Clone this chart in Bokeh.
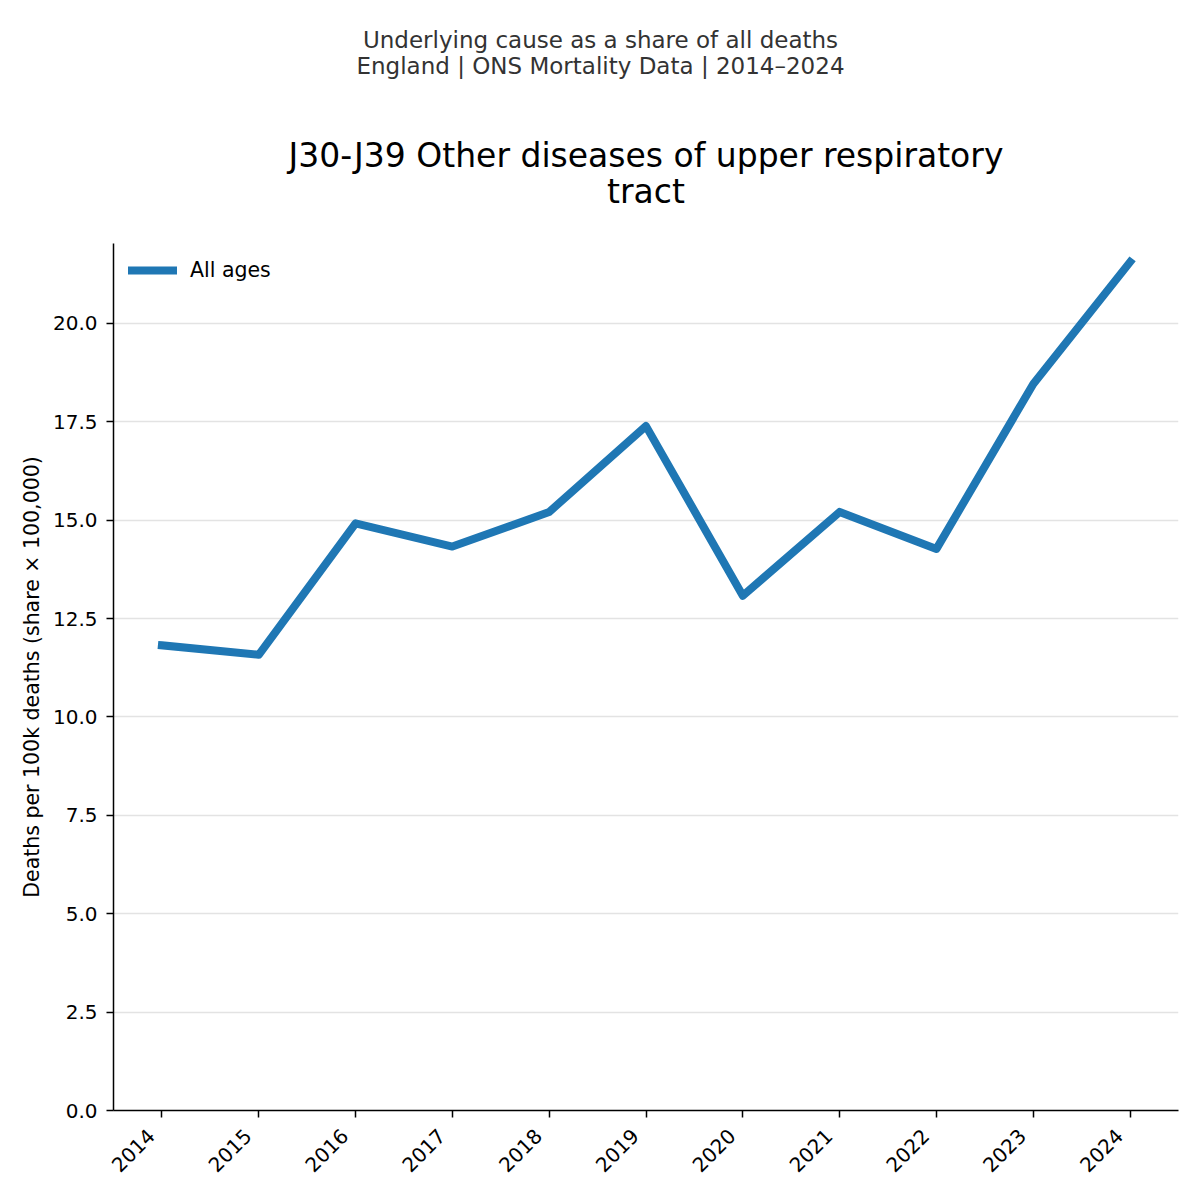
from bokeh.plotting import figure
from bokeh.layouts import column
from bokeh.models import (Range1d, FixedTicker, Legend, LegendItem, PrintfTickFormatter,
                          LinearAxis, CustomJSTickFormatter)
from bokeh.core.properties import value
from bokeh.embed import file_html
from bokeh.resources import INLINE
import math

years = [2014, 2015, 2016, 2017, 2018, 2019, 2020, 2021, 2022, 2023, 2024]
all_ages = [11.82, 11.58, 14.92, 14.33, 15.21, 17.39, 13.08, 15.21, 14.27, 18.46, 21.56]
y_ticks = [0.0, 2.5, 5.0, 7.5, 10.0, 12.5, 15.0, 17.5, 20.0]
suptitle_lines = ["Underlying cause as a share of all deaths",
                  "England | ONS Mortality Data | 2014\u20132024"]
title_lines = ["J30-J39 Other diseases of upper respiratory", "tract"]
y_label = "Deaths per 100k deaths (share \u00d7 100,000)"
series_label = "All ages"

FONT = "DejaVu Sans"
W = 1184
HEAD = 243          # height of the heading strip (titles)
H = 1184 - HEAD     # height of the chart figure
BL, BR, BB = 113, 6, 74
FX0, FX1 = BL, W - BR
LABEL_SHIFT = 0.11  # rotated year labels sit slightly left of their tick (right-aligned box)

# ---- heading strip: ranges mapped to page pixels (y downwards) ----
head = figure(width=W, height=HEAD, output_backend="svg", toolbar_location=None,
              x_range=Range1d(FX0, FX1), y_range=Range1d(HEAD, 0),
              x_axis_type=None, y_axis_type=None,
              min_border_left=BL, min_border_right=BR,
              min_border_top=0, min_border_bottom=0, title=None)
head.outline_line_color = None
head.xgrid.grid_line_color = None
head.ygrid.grid_line_color = None

head.text(x=[600, 600], y=[39, 65], text=suptitle_lines,
          text_font=value(FONT), text_font_size=value("23px"),
          text_color="#333333", text_align="center", text_baseline="alphabetic")
head.text(x=[(FX0 + FX1) / 2] * 2, y=[154.5, 190.5], text=title_lines,
          text_font=value(FONT), text_font_size=value("33px"),
          text_color="black", text_align="center", text_baseline="alphabetic")

# ---- chart ----
p = figure(width=W, height=H, output_backend="svg", toolbar_location=None,
           x_range=Range1d(2013.5, 2024.5), y_range=Range1d(0, 22.03),
           min_border_left=BL, min_border_right=BR, min_border_top=0,
           min_border_bottom=BB, title=None)
p.outline_line_color = None
p.background_fill_color = "white"

r = p.line(years, all_ages, line_width=8, line_color="#1f77b4",
           line_join="round", line_cap="square")

for ax in [p.xaxis[0], p.yaxis[0]]:
    ax.axis_line_color = "black"
    ax.axis_line_width = 1.5
    ax.major_tick_line_color = "black"
    ax.major_tick_line_width = 1.5
    ax.major_tick_out = 7
    ax.major_tick_in = 0
    ax.minor_tick_line_color = None
    ax.major_label_text_font = FONT
    ax.major_label_text_font_size = "20px"
    ax.major_label_text_color = "black"

# x axis: tick marks at the years, no labels
p.xaxis.ticker = FixedTicker(ticks=years)
p.xaxis.formatter = CustomJSTickFormatter(code="return '';")
p.xaxis.major_label_standoff = 0

# second x axis below: the rotated year labels only
label_axis = LinearAxis(ticker=FixedTicker(ticks=[y - LABEL_SHIFT for y in years]),
                        formatter=CustomJSTickFormatter(code="return Math.round(tick).toString();"),
                        axis_line_color=None, major_tick_line_color=None,
                        minor_tick_line_color=None, major_tick_in=0, major_tick_out=0,
                        major_label_orientation=math.pi / 4, major_label_standoff=15,
                        major_label_text_font=FONT, major_label_text_font_size="20px",
                        major_label_text_color="black")
p.add_layout(label_axis, "below")

p.yaxis.ticker = FixedTicker(ticks=y_ticks)
p.yaxis.formatter = PrintfTickFormatter(format="%.1f")
p.yaxis.major_label_standoff = 9
p.yaxis.axis_label = y_label
p.yaxis.axis_label_text_font = FONT
p.yaxis.axis_label_text_font_size = "20.5px"
p.yaxis.axis_label_text_font_style = "normal"
p.yaxis.axis_label_text_color = "black"
p.yaxis.axis_label_standoff = 6

p.xgrid.grid_line_color = None
p.ygrid.grid_line_color = "#e3e3e3"
p.ygrid.grid_line_width = 1.5

legend = Legend(items=[LegendItem(label=series_label, renderers=[r])],
                location="top_left", border_line_color=None,
                background_fill_alpha=0.0, margin=15, padding=10,
                glyph_width=49, glyph_height=24, label_standoff=13,
                label_text_font=FONT, label_text_font_size="20.5px",
                label_text_color="black")
p.add_layout(legend)

layout = column(head, p, spacing=0)
open("out.html", "w").write(file_html(layout, INLINE))
